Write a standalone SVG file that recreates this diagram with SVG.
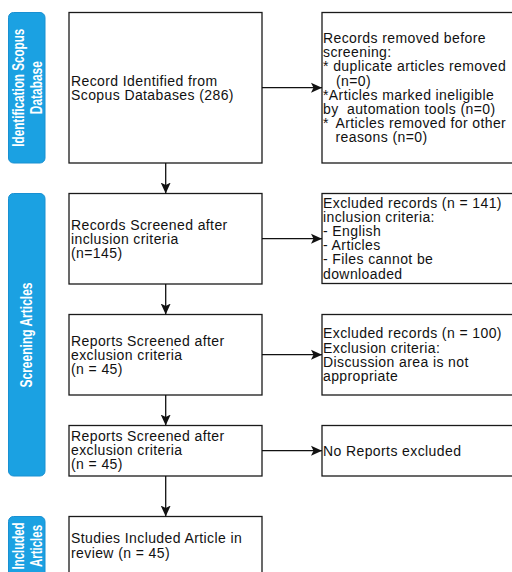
<svg xmlns="http://www.w3.org/2000/svg" width="512" height="572" viewBox="0 0 512 572">
<style>
.bar{fill:#1ba1e2;stroke:#1990d2;stroke-width:1}
.box{fill:#ffffff;stroke:#1a1a1a;stroke-width:1.3}
.t{font-family:"Liberation Sans",Arial,sans-serif;font-size:14px;letter-spacing:0.4px;fill:#111}
.bt{font-family:"Liberation Sans",Arial,sans-serif;font-size:16px;font-weight:bold;fill:#ffffff;text-anchor:middle}
.c{fill:none;stroke:#111;stroke-width:1.3}
</style>
<defs>
<marker id="ah" markerUnits="userSpaceOnUse" markerWidth="12" markerHeight="11" refX="11" refY="5" orient="auto" viewBox="0 0 12 10">
<path d="M0,0 L11,5 L0,10 L2.5,5 Z" fill="#111"/>
</marker>
</defs>
<rect width="512" height="572" fill="#ffffff"/>

<g id="phase-identification">
<rect class="bar" x="8.5" y="12.5" width="36.5" height="150.5" rx="5"/>
<text class="bt" transform="rotate(-90)"><tspan x="-87.7" y="24" textLength="118" lengthAdjust="spacingAndGlyphs">Identification Scopus</tspan><tspan x="-87.7" y="42" textLength="53" lengthAdjust="spacingAndGlyphs">Database</tspan></text>
</g>
<g id="phase-screening">
<rect class="bar" x="8.5" y="193.5" width="36.5" height="282.5" rx="5"/>
<text class="bt" transform="rotate(-90)"><tspan x="-335" y="32.3" textLength="105" lengthAdjust="spacingAndGlyphs">Screening Articles</tspan></text>
</g>
<g id="phase-included">
<rect class="bar" x="8.5" y="516.5" width="36.5" height="62" rx="5"/>
<text class="bt" transform="rotate(-90)"><tspan x="-546" y="24" textLength="47" lengthAdjust="spacingAndGlyphs">Included</tspan><tspan x="-546" y="42" textLength="42" lengthAdjust="spacingAndGlyphs">Articles</tspan></text>
</g>

<g id="identified">
<rect class="box" x="69" y="12.5" width="193" height="150.5"/>
<text class="t"><tspan x="71" y="85.6">Record Identified from</tspan><tspan x="71" y="99.8">Scopus Databases (286)</tspan></text>
</g>
<g id="removed">
<rect class="box" x="322" y="12.5" width="196" height="150.5"/>
<text class="t"><tspan x="323" y="43">Records removed before</tspan><tspan x="323" y="57.2">screening:</tspan><tspan x="323" y="71.4">* duplicate articles removed</tspan><tspan x="336" y="85.6">(n=0)</tspan><tspan x="323" y="99.8">*Articles marked ineligible</tspan><tspan x="323" y="114">by</tspan><tspan x="347" y="114">automation tools (n=0)</tspan><tspan x="323" y="128.2">*</tspan><tspan x="335.5" y="128.2">Articles removed for other</tspan><tspan x="335.5" y="142.4">reasons (n=0)</tspan></text>
</g>

<g id="screened-inclusion">
<rect class="box" x="69" y="193.5" width="193" height="90.5"/>
<text class="t"><tspan x="71" y="229.5">Records Screened after</tspan><tspan x="71" y="243.7">inclusion criteria</tspan><tspan x="71" y="257.9">(n=145)</tspan></text>
</g>
<g id="excluded-inclusion">
<rect class="box" x="322" y="193.5" width="196" height="90"/>
<text class="t"><tspan x="323" y="207.5">Excluded records (n = 141)</tspan><tspan x="323" y="221.7">inclusion criteria:</tspan><tspan x="323" y="235.9">- English</tspan><tspan x="323" y="250.1">- Articles</tspan><tspan x="323" y="264.3">- Files cannot be</tspan><tspan x="323" y="278.5">downloaded</tspan></text>
</g>

<g id="screened-exclusion">
<rect class="box" x="69" y="314.5" width="193" height="80.5"/>
<text class="t"><tspan x="71" y="345.5">Reports Screened after</tspan><tspan x="71" y="359.7">exclusion criteria</tspan><tspan x="71" y="373.9">(n = 45)</tspan></text>
</g>
<g id="excluded-exclusion">
<rect class="box" x="322" y="314.5" width="196" height="80.5"/>
<text class="t"><tspan x="323" y="338.4">Excluded records (n = 100)</tspan><tspan x="323" y="352.6">Exclusion criteria:</tspan><tspan x="323" y="366.8">Discussion area is not</tspan><tspan x="323" y="381">appropriate</tspan></text>
</g>

<g id="screened-final">
<rect class="box" x="69" y="425.5" width="193" height="50.5"/>
<text class="t"><tspan x="71" y="441">Reports Screened after</tspan><tspan x="71" y="455.2">exclusion criteria</tspan><tspan x="71" y="469.4">(n = 45)</tspan></text>
</g>
<g id="no-excluded">
<rect class="box" x="322" y="425.5" width="196" height="50.5"/>
<text class="t"><tspan x="323" y="455.5">No Reports excluded</tspan></text>
</g>

<g id="included">
<rect class="box" x="69" y="516.5" width="193" height="64"/>
<text class="t"><tspan x="71" y="543">Studies Included Article in</tspan><tspan x="71" y="557.5">review (n = 45)</tspan></text>
</g>

<g id="connectors">
<line class="c" x1="165.7" y1="163" x2="165.7" y2="193.5" marker-end="url(#ah)"/>
<line class="c" x1="165.7" y1="284" x2="165.7" y2="314.5" marker-end="url(#ah)"/>
<line class="c" x1="165.7" y1="395" x2="165.7" y2="425.5" marker-end="url(#ah)"/>
<line class="c" x1="165.7" y1="476" x2="165.7" y2="516.5" marker-end="url(#ah)"/>
<line class="c" x1="262" y1="87.7" x2="322" y2="87.7" marker-end="url(#ah)"/>
<line class="c" x1="262" y1="238.7" x2="322" y2="238.7" marker-end="url(#ah)"/>
<line class="c" x1="262" y1="354.7" x2="322" y2="354.7" marker-end="url(#ah)"/>
<line class="c" x1="262" y1="450.7" x2="322" y2="450.7" marker-end="url(#ah)"/>
</g>
</svg>
